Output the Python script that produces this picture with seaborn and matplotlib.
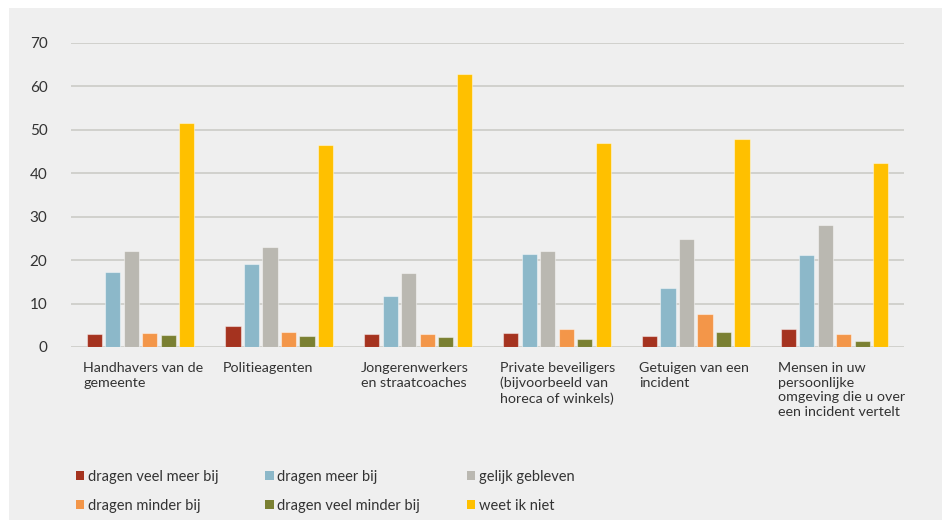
import matplotlib
matplotlib.use("Agg")
import matplotlib.pyplot as plt
from matplotlib.patches import Rectangle, Patch
import numpy as np
import pandas as pd
import seaborn as sns

# Groups of people (x axis)
categories = [
    "Handhavers van de\ngemeente",
    "Politieagenten",
    "Jongerenwerkers\nen straatcoaches",
    "Private beveiligers\n(bijvoorbeeld van\nhoreca of winkels)",
    "Getuigen van een\nincident",
    "Mensen in uw\npersoonlijke\nomgeving die u over\neen incident vertelt",
]

# Answer series (percentages per group)
series_names = [
    "dragen veel meer bij",
    "dragen meer bij",
    "gelijk gebleven",
    "dragen minder bij",
    "dragen veel minder bij",
    "weet ik niet",
]
veel_meer = [2.9, 4.8, 2.9, 3.2, 2.5, 4.1]
meer = [17.2, 19.1, 11.8, 21.3, 13.5, 21.1]
gelijk = [22.1, 23.0, 17.0, 22.1, 24.8, 28.0]
minder = [3.2, 3.4, 2.9, 4.1, 7.6, 2.9]
veel_minder = [2.8, 2.5, 2.2, 1.9, 3.4, 1.3]
weet_niet = [51.5, 46.5, 62.8, 46.9, 47.9, 42.3]

y_ticks = [0, 10, 20, 30, 40, 50, 60, 70]

colors = ["#A5331F", "#8CB8C9", "#BAB8B1", "#F39649", "#7A8032", "#FFC000"]

values = [veel_meer, meer, gelijk, minder, veel_minder, weet_niet]
df = pd.DataFrame(
    [
        {"groep": cat, "antwoord": name, "pct": vals[i]}
        for name, vals in zip(series_names, values)
        for i, cat in enumerate(categories)
    ]
)

sns.set_theme(style="white")
plt.rcParams["font.family"] = ["Lato", "DejaVu Sans"]
text_color = "#333333"
grid_color = "#C9C8C3"
panel_color = "#EFEFEF"

fig = plt.figure(figsize=(9.42, 5.20), dpi=100, facecolor="white")
# Light grey background panel, kept behind the axes
fig.patches.append(
    Rectangle((9 / 942, 0), 1 - 9 / 942, 1 - 8 / 520, transform=fig.transFigure,
              facecolor=panel_color, edgecolor="none", zorder=-10)
)

ax = fig.add_axes([71 / 942, 1 - 347 / 520, (904 - 71) / 942, (347 - 43) / 520])
ax.set_facecolor("none")

sns.barplot(
    data=df, x="groep", y="pct", hue="antwoord",
    order=categories, hue_order=series_names,
    palette=colors, saturation=1, width=0.8, gap=0.18,
    edgecolor=(1, 1, 1, 0.45), linewidth=0.8,
    legend=False, ax=ax, zorder=3,
)

ax.set_ylim(0, 70)
ax.set_xlim(-0.5, len(categories) - 0.5)
ax.set_yticks(y_ticks)
ax.set_yticklabels([str(t) for t in y_ticks], fontsize=11, color=text_color)
ax.yaxis.grid(True, color=grid_color, linewidth=1.1, zorder=0)
ax.set_axisbelow(True)
for side in ["left", "right", "top", "bottom"]:
    ax.spines[side].set_visible(False)
ax.tick_params(axis="y", length=0, pad=17)
ax.tick_params(axis="x", length=0, pad=11)

# Left-aligned category labels under each group
ax.set_xticks(np.arange(len(categories)) - 0.41)
ax.set_xticklabels(categories, fontsize=10.3, color=text_color,
                   ha="left", va="top", linespacing=1.25)
ax.set_xlabel("")
ax.set_ylabel("")

# Legend: 3 columns, filled row by row
order = [0, 3, 1, 4, 2, 5]
handles = [Patch(facecolor=colors[i], edgecolor="none", label=series_names[i]) for i in order]
fig.legend(
    handles=handles, ncol=3, loc="upper left",
    bbox_to_anchor=(76 / 942, 1 - 470 / 520),
    frameon=False, fontsize=10.5, labelcolor=text_color,
    handlelength=0.57, handleheight=0.57, handletextpad=0.25,
    columnspacing=3.2, labelspacing=1.0, borderpad=0, borderaxespad=0,
)

fig.savefig("out.png", dpi=100, facecolor="white")
